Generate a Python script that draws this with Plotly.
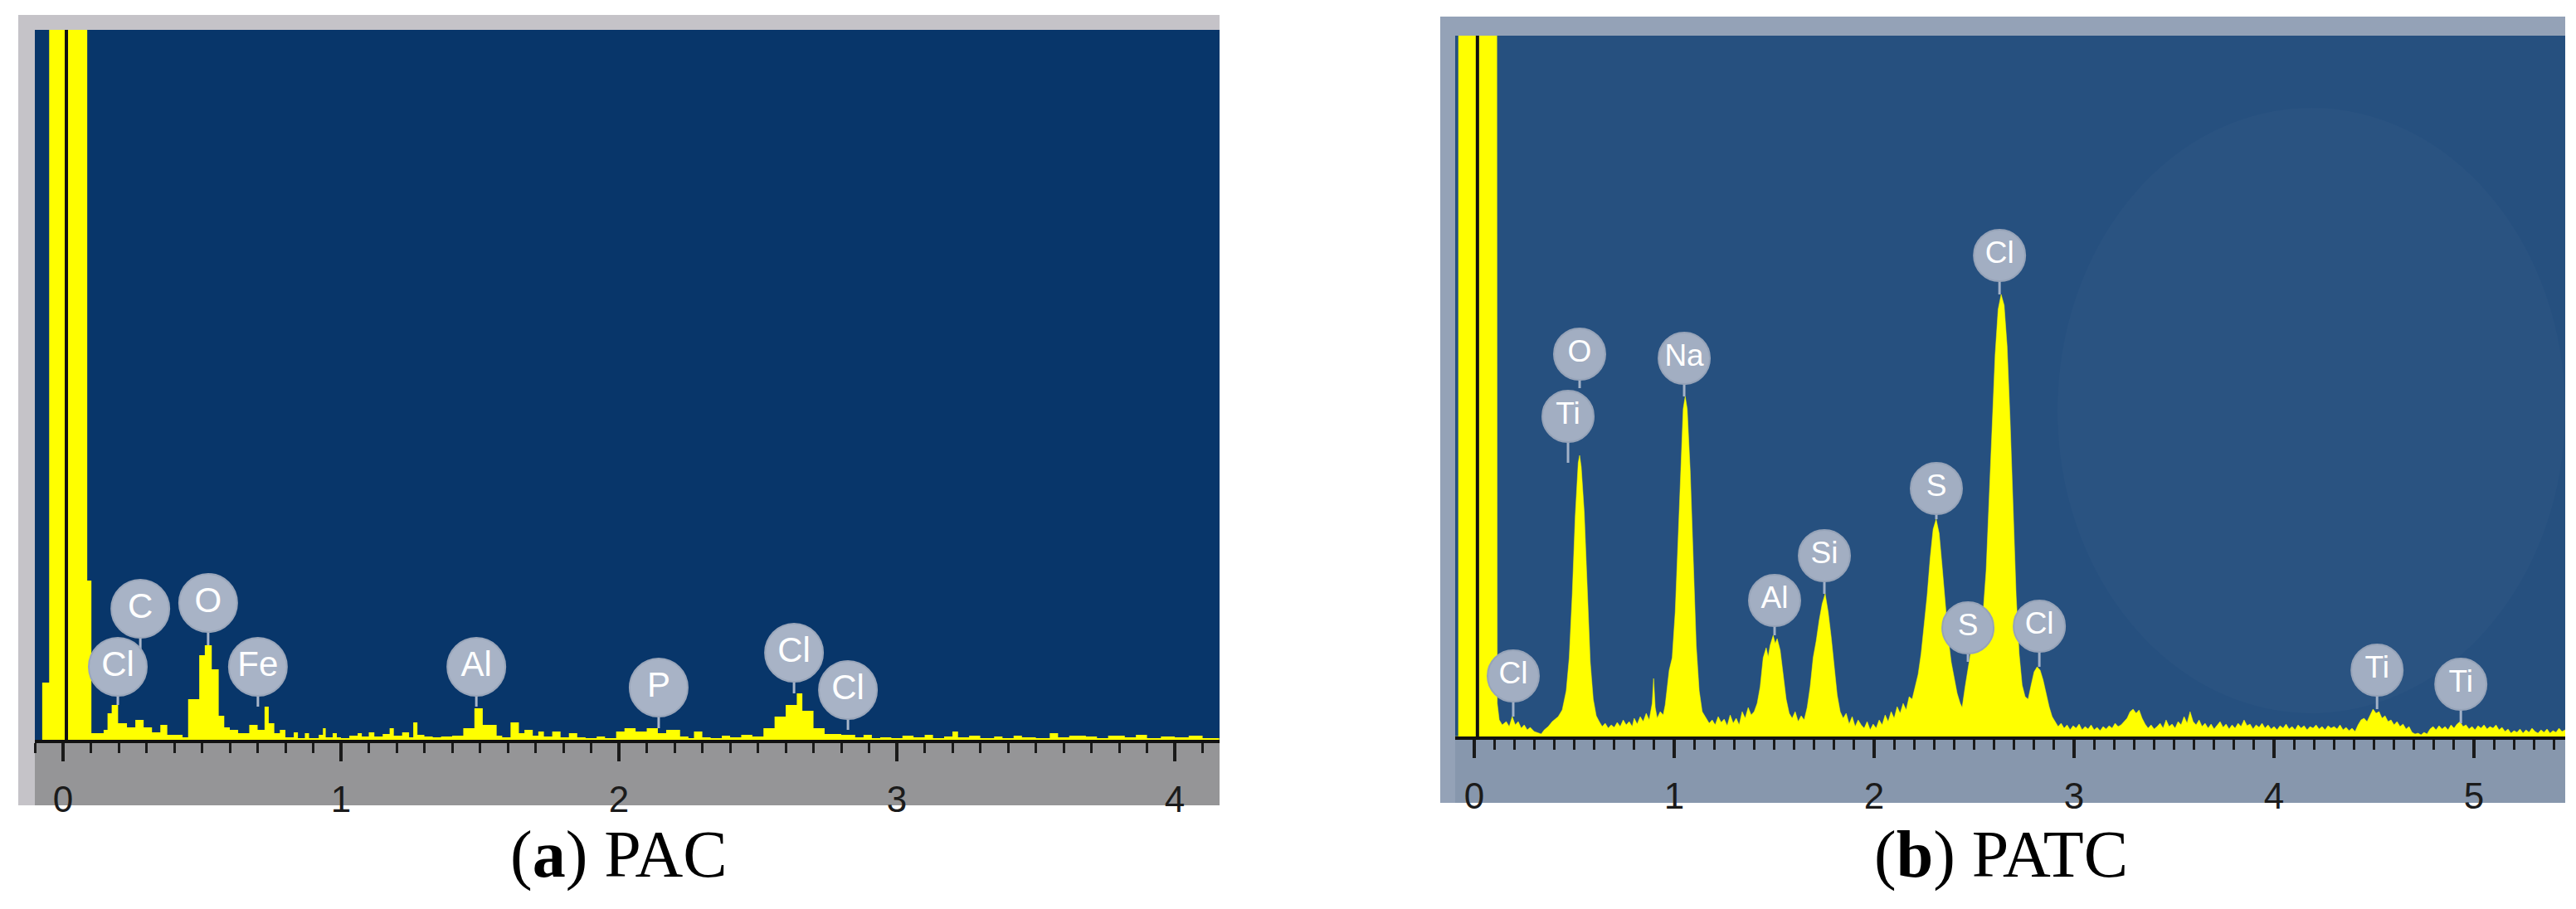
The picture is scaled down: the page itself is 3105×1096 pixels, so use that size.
import plotly.graph_objects as go

# ---------------- data ----------------
# Panel (a) PAC : energy (keV) of each histogram step and its height (counts, arbitrary units)
a_kev = [
    -0.100, -0.075, -0.050, 0.087, 0.102, 0.146, 0.160, 0.175, 0.198, 0.230,
    0.260, 0.290, 0.320, 0.350, 0.375, 0.430, 0.450, 0.490, 0.510, 0.535,
    0.560, 0.580, 0.600, 0.630, 0.670, 0.700, 0.725, 0.740, 0.760, 0.780,
    0.800, 0.830, 0.845, 0.870, 0.885, 0.920, 0.935, 0.945, 0.970, 0.985,
    1.000, 1.030, 1.060, 1.075, 1.100, 1.120, 1.150, 1.175, 1.190, 1.220,
    1.245, 1.260, 1.275, 1.300, 1.330, 1.360, 1.400, 1.440, 1.480, 1.510,
    1.560, 1.580, 1.610, 1.640, 1.660, 1.690, 1.710, 1.730, 1.760, 1.790,
    1.820, 1.850, 1.880, 1.920, 1.950, 1.990, 2.020, 2.060, 2.100, 2.140,
    2.170, 2.220, 2.250, 2.270, 2.300, 2.330, 2.370, 2.400, 2.440, 2.480,
    2.520, 2.560, 2.600, 2.640, 2.660, 2.700, 2.740, 2.800, 2.850, 2.880,
    2.910, 2.940, 2.980, 3.020, 3.060, 3.100, 3.130, 3.170, 3.200, 3.220,
    3.260, 3.300, 3.350, 3.380, 3.420, 3.450, 3.500, 3.550, 3.580, 3.620,
    3.680, 3.720, 3.760, 3.820, 3.860, 3.900, 3.950, 4.000, 4.050, 4.100,
    4.160,
]
a_counts = [
    0, 69, 3000, 192, 8, 12, 32, 42, 20, 15,
    24, 15, 9, 18, 6, 3, 49, 102, 114, 85,
    29, 15, 12, 8, 18, 12, 40, 20, 8, 12,
    3, 9, 2, 8, 2, 6, 14, 3, 8, 3,
    2, 5, 8, 4, 9, 4, 7, 14, 5, 9,
    3, 21, 6, 4, 3, 4, 5, 14, 38, 18,
    5, 3, 21, 8, 12, 5, 10, 4, 10, 3,
    8, 3, 2, 4, 2, 10, 14, 10, 14, 8,
    12, 4, 2, 10, 3, 2, 5, 3, 6, 4,
    14, 28, 42, 56, 35, 14, 7, 6, 3, 6,
    2, 3, 2, 5, 3, 6, 2, 4, 10, 3,
    5, 2, 4, 2, 5, 3, 2, 8, 3, 5,
    4, 2, 5, 3, 6, 2, 4, 3, 5, 2,
    2,
]

# Panel (b) PATC : spectrum vertices (keV, counts)
b_kev = [
    -0.095, -0.079, -0.078, 0.108, 0.115, 0.125, 0.140, 0.160, 0.175, 0.190,
    0.205, 0.220, 0.235, 0.250, 0.265, 0.280, 0.300, 0.320, 0.335, 0.350,
    0.370, 0.390, 0.420, 0.440, 0.460, 0.475, 0.490, 0.505, 0.520, 0.527,
    0.535, 0.550, 0.565, 0.580, 0.595, 0.610, 0.625, 0.640, 0.655, 0.670,
    0.685, 0.700, 0.715, 0.730, 0.745, 0.760, 0.775, 0.790, 0.800, 0.815,
    0.830, 0.845, 0.860, 0.875, 0.890, 0.897, 0.905, 0.915, 0.930, 0.945,
    0.955, 0.965, 0.975, 0.990, 1.005, 1.020, 1.035, 1.045, 1.055, 1.065,
    1.080, 1.095, 1.110, 1.125, 1.140, 1.160, 1.175, 1.190, 1.205, 1.220,
    1.235, 1.250, 1.265, 1.280, 1.295, 1.310, 1.325, 1.340, 1.355, 1.370,
    1.385, 1.400, 1.415, 1.430, 1.445, 1.460, 1.470, 1.480, 1.495, 1.505,
    1.515, 1.530, 1.545, 1.560, 1.575, 1.590, 1.605, 1.620, 1.635, 1.650,
    1.665, 1.680, 1.695, 1.710, 1.725, 1.740, 1.755, 1.770, 1.785, 1.800,
    1.815, 1.830, 1.845, 1.860, 1.875, 1.890, 1.905, 1.920, 1.935, 1.950,
    1.965, 1.980, 1.995, 2.010, 2.025, 2.040, 2.055, 2.070, 2.085, 2.100,
    2.115, 2.130, 2.145, 2.160, 2.175, 2.190, 2.205, 2.220, 2.235, 2.250,
    2.265, 2.280, 2.295, 2.310, 2.325, 2.340, 2.355, 2.370, 2.385, 2.400,
    2.415, 2.430, 2.440, 2.455, 2.470, 2.485, 2.500, 2.515, 2.530, 2.545,
    2.560, 2.575, 2.590, 2.605, 2.620, 2.635, 2.650, 2.665, 2.680, 2.695,
    2.710, 2.725, 2.740, 2.755, 2.770, 2.785, 2.800, 2.815, 2.830, 2.845,
    2.860, 2.875, 2.890, 2.905, 2.920, 2.935, 2.950, 2.965, 2.980, 2.995,
    3.010, 3.025, 3.040, 3.055, 3.070, 3.085, 3.100, 3.115, 3.130, 3.145,
    3.160, 3.175, 3.190, 3.205, 3.220, 3.235, 3.250, 3.265, 3.280, 3.295,
    3.310, 3.325, 3.340, 3.355, 3.370, 3.385, 3.400, 3.415, 3.430, 3.445,
    3.460, 3.475, 3.490, 3.505, 3.520, 3.535, 3.550, 3.565, 3.580, 3.595,
    3.610, 3.625, 3.640, 3.655, 3.670, 3.685, 3.700, 3.715, 3.730, 3.745,
    3.760, 3.775, 3.790, 3.805, 3.820, 3.835, 3.850, 3.865, 3.880, 3.895,
    3.910, 3.925, 3.940, 3.955, 3.970, 3.985, 4.000, 4.015, 4.030, 4.045,
    4.060, 4.075, 4.090, 4.105, 4.120, 4.135, 4.150, 4.165, 4.180, 4.195,
    4.210, 4.225, 4.240, 4.255, 4.270, 4.285, 4.300, 4.315, 4.330, 4.345,
    4.360, 4.375, 4.390, 4.405, 4.420, 4.435, 4.450, 4.465, 4.480, 4.495,
    4.510, 4.525, 4.540, 4.555, 4.570, 4.585, 4.600, 4.615, 4.630, 4.645,
    4.660, 4.675, 4.690, 4.705, 4.720, 4.735, 4.750, 4.765, 4.780, 4.795,
    4.810, 4.825, 4.840, 4.855, 4.870, 4.885, 4.900, 4.915, 4.930, 4.945,
    4.960, 4.975, 4.990, 5.005, 5.020, 5.035, 5.050, 5.065, 5.080, 5.095,
    5.110, 5.125, 5.140, 5.155, 5.170, 5.185, 5.200, 5.215, 5.230, 5.245,
    5.260, 5.275, 5.290, 5.305, 5.320, 5.335, 5.350, 5.365, 5.380, 5.395,
    5.410, 5.425, 5.440, 5.456,
]
b_counts = [
    0, 0, 3000, 3000, 40, 20, 14, 18, 12, 24,
    14, 18, 10, 14, 8, 11, 6, 4, 3, 8,
    12, 18, 24, 32, 55, 95, 170, 265, 330, 339,
    325, 270, 175, 90, 45, 25, 18, 12, 16, 10,
    14, 11, 17, 12, 20, 14, 18, 12, 22, 15,
    24, 18, 28, 20, 40, 70, 35, 22, 30, 26,
    38, 60, 80, 95, 150, 240, 340, 395, 410, 395,
    320, 210, 110, 55, 30, 22, 16, 20, 14, 24,
    17, 21, 13, 26, 16, 22, 14, 30, 22, 35,
    26, 30, 40, 60, 95, 107, 96, 110, 122, 112,
    118, 104, 75, 45, 28, 22, 30, 18, 25, 20,
    35, 60, 95, 115, 140, 160, 172, 150, 120, 85,
    50, 30, 22, 28, 15, 24, 12, 20, 14, 10,
    18, 8, 15, 10, 20, 14, 26, 18, 30, 22,
    36, 28, 40, 32, 48, 45, 60, 75, 100, 135,
    170, 215, 250, 262, 245, 205, 160, 120, 90, 70,
    52, 40, 35, 60, 85, 105, 108, 112, 125, 150,
    200, 290, 380, 460, 515, 533, 520, 470, 380, 270,
    170, 100, 62, 48, 45, 62, 78, 84, 80, 68,
    52, 36, 24, 18, 12, 16, 10, 14, 8, 13,
    10, 15, 8, 12, 9, 14, 8, 11, 7, 12,
    9, 13, 10, 16, 12, 14, 18, 22, 30, 33,
    28, 32, 22, 15, 10, 14, 9, 12, 16, 10,
    20, 12, 15, 10, 18, 14, 24, 16, 30, 18,
    14, 20, 12, 16, 10, 15, 9, 13, 18, 11,
    15, 9, 14, 10, 16, 12, 20, 13, 15, 9,
    14, 11, 16, 10, 14, 9, 12, 8, 13, 10,
    15, 9, 12, 8, 14, 10, 13, 8, 12, 10,
    14, 9, 12, 8, 13, 10, 12, 9, 14, 8,
    11, 7, 10, 6, 14, 20, 22, 18, 26, 33,
    28, 30, 22, 25, 18, 20, 14, 18, 12, 15,
    9, 12, 5, 3, 4, 2, 5, 3, 9, 12,
    8, 13, 9, 12, 8, 14, 10, 15, 18, 12,
    14, 9, 12, 8, 13, 10, 14, 9, 12, 10,
    14, 8, 11, 6, 9, 4, 7, 5, 9, 4,
    8, 5, 10, 6, 4, 8, 5, 9, 4, 7,
    5, 10, 6, 8,
]
assert len(a_kev) == len(a_counts) and len(b_kev) == len(b_counts)

# element markers: name, energy, badge level, stem end (counts)
a_lab_names = ["Cl", "C", "O", "Fe", "Al", "P", "Cl", "Cl"]
a_lab_kev = [0.197, 0.278, 0.522, 0.701, 1.487, 2.143, 2.630, 2.824]
a_lab_level = [88, 158, 165, 88, 88, 63, 105, 60]
a_lab_stem = [42, 100, 114, 40, 40, 14, 56, 12]

b_lab_names = ["Cl", "O", "Ti", "Na", "Al", "Si", "S", "S", "Cl", "Cl", "Ti", "Ti"]
b_lab_kev = [0.195, 0.527, 0.469, 1.050, 1.502, 1.751, 2.311, 2.469, 2.627, 2.826, 4.515, 4.934]
b_lab_level = [73, 461, 386, 456, 164, 218, 299, 131, 580, 133, 80, 63]
b_lab_stem = [24, 420, 330, 410, 122, 172, 262, 90, 533, 84, 33, 16]

a_ticks = [0, 1, 2, 3, 4]
b_ticks = [0, 1, 2, 3, 4, 5]
captions = ["(<b>a</b>) PAC", "(<b>b</b>) PATC"]

# ---------------- layout geometry ----------------
W, H = 3105, 1096
def px(x):
    return x / W
def py(y):
    return 1 - y / H

fig = go.Figure()

YELLOW = "#FFFF00"
fig.add_trace(go.Scatter(x=a_kev, y=a_counts, mode="lines", line=dict(shape="hv", width=0, color=YELLOW),
                         fill="tozeroy", fillcolor=YELLOW, xaxis="x", yaxis="y", hoverinfo="skip"))
fig.add_trace(go.Scatter(x=b_kev, y=b_counts, mode="lines", line=dict(width=0.5, color=YELLOW),
                         fill="tozeroy", fillcolor=YELLOW, xaxis="x2", yaxis="y2", hoverinfo="skip"))

def stems(kev, lvl, end):
    xs, ys = [], []
    for e, l, s in zip(kev, lvl, end):
        xs += [e, e, None]
        ys += [l, s, None]
    return xs, ys

sx, sy = stems(a_lab_kev, a_lab_level, a_lab_stem)
fig.add_trace(go.Scatter(x=sx, y=sy, mode="lines", line=dict(color="#A9B6CA", width=3),
                         xaxis="x", yaxis="y", hoverinfo="skip"))
sx, sy = stems(b_lab_kev, b_lab_level, b_lab_stem)
fig.add_trace(go.Scatter(x=sx, y=sy, mode="lines", line=dict(color="#A3B2C8", width=3),
                         xaxis="x2", yaxis="y2", hoverinfo="skip"))

fig.add_trace(go.Scatter(x=a_lab_kev, y=a_lab_level, mode="markers+text", text=a_lab_names,
                         textposition="middle center",
                         textfont=dict(family="Liberation Sans, Arial, sans-serif", size=42, color="white"),
                         marker=dict(size=70, color="#A8B3C6", line=dict(width=2, color="#9AA6BA")),
                         cliponaxis=False, xaxis="x", yaxis="y", hoverinfo="skip"))
fig.add_trace(go.Scatter(x=b_lab_kev, y=b_lab_level, mode="markers+text", text=b_lab_names,
                         textposition="middle center",
                         textfont=dict(family="Liberation Sans, Arial, sans-serif", size=37, color="white"),
                         marker=dict(size=62, color="#A2AEC2", line=dict(width=2, color="#96A3B8")),
                         cliponaxis=False, xaxis="x2", yaxis="y2", hoverinfo="skip"))

def xaxis_style(domain, rng, ticks, anchor):
    return dict(domain=domain, range=rng, anchor=anchor, showgrid=False, zeroline=False,
                showline=True, linecolor="#111111", linewidth=4,
                tickmode="array", tickvals=ticks, ticktext=[str(t) for t in ticks],
                ticks="outside", ticklen=22, tickwidth=4, tickcolor="#1a1a1a",
                ticklabelstandoff=8,
                tickfont=dict(family="Liberation Sans, Arial, sans-serif", size=44, color="#1b1b1b"),
                minor=dict(dtick=0.1, tick0=0, ticks="outside", ticklen=12, tickwidth=3, tickcolor="#1a1a1a"),
                fixedrange=True)

def yaxis_style(domain, rng, anchor):
    return dict(domain=domain, range=rng, anchor=anchor, visible=False, showgrid=False,
                zeroline=False, fixedrange=True)

shapes = [
    # panel (a) frame
    dict(type="rect", xref="paper", yref="paper", x0=px(22), x1=px(1470), y0=py(971), y1=py(18),
         fillcolor="#C5C3C8", line_width=0, layer="below"),
    dict(type="rect", xref="paper", yref="paper", x0=px(42), x1=px(1470), y0=py(971), y1=py(892),
         fillcolor="#959597", line_width=0, layer="below"),
    dict(type="rect", xref="paper", yref="paper", x0=px(42), x1=px(1470), y0=py(892), y1=py(36),
         fillcolor="#08366A", line_width=0, layer="below"),
    # panel (b) frame
    dict(type="rect", xref="paper", yref="paper", x0=px(1736), x1=px(3092), y0=py(968), y1=py(20),
         fillcolor="#94A2B7", line_width=0, layer="below"),
    dict(type="rect", xref="paper", yref="paper", x0=px(1754), x1=px(3092), y0=py(968), y1=py(888),
         fillcolor="#8797AD", line_width=0, layer="below"),
    dict(type="rect", xref="paper", yref="paper", x0=px(1754), x1=px(3092), y0=py(888), y1=py(43),
         fillcolor="#26507F", line_width=0, layer="below"),
    dict(type="circle", xref="paper", yref="paper", x0=px(2480), x1=px(3092), y0=py(860), y1=py(130),
         fillcolor="rgba(255,255,255,0.018)", line_width=0, layer="below"),
    # zero-energy marker lines
    dict(type="line", xref="x", yref="y domain", x0=0.012, x1=0.012, y0=0, y1=1,
         line=dict(color="#111111", width=4), layer="above"),
    dict(type="line", xref="x2", yref="y2 domain", x0=0.016, x1=0.016, y0=0, y1=1,
         line=dict(color="#111111", width=4), layer="above"),
]

annotations = [
    dict(text=captions[0], x=px(746), y=py(1030), xref="paper", yref="paper", showarrow=False,
         xanchor="center", yanchor="middle",
         font=dict(family="Liberation Serif, Times New Roman, serif", size=80, color="black")),
    dict(text=captions[1], x=px(2412), y=py(1030), xref="paper", yref="paper", showarrow=False,
         xanchor="center", yanchor="middle",
         font=dict(family="Liberation Serif, Times New Roman, serif", size=80, color="black")),
]

fig.update_layout(
    width=W, height=H, autosize=False,
    margin=dict(l=0, r=0, t=0, b=0, pad=0),
    paper_bgcolor="white", plot_bgcolor="rgba(0,0,0,0)",
    showlegend=False,
    xaxis=xaxis_style([px(42), px(1470)], [-0.1015, 4.161], a_ticks, "y"),
    yaxis=yaxis_style([py(892), py(36)], [0, 856], "x"),
    xaxis2=xaxis_style([px(1754), px(3092)], [-0.0954, 5.456], b_ticks, "y2"),
    yaxis2=yaxis_style([py(888), py(43)], [0, 845], "x2"),
    shapes=shapes,
    annotations=annotations,
)

fig.write_html("out.html", config={"displayModeBar": False},
               post_script="document.body.style.margin='0px';document.body.style.overflow='hidden';")
